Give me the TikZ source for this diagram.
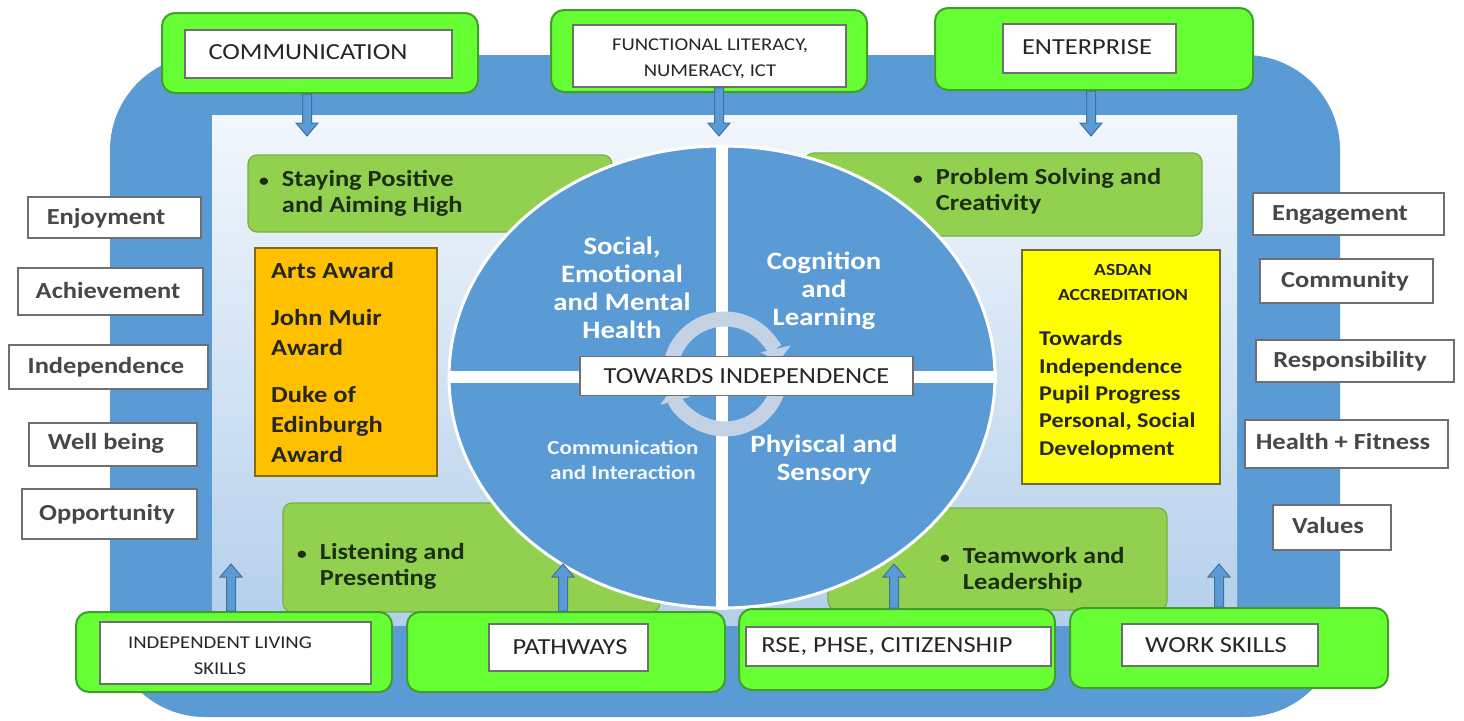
\documentclass[tikz,border=0pt]{standalone}
\usepackage{fontspec}
\setmainfont{Carlito}[FakeStretch=1.15]
\usetikzlibrary{arrows.meta,calc,shapes.geometric}
\definecolor{frameblue}{HTML}{5B9BD5}
\definecolor{arrowedge}{HTML}{41719C}
\definecolor{panelTop}{HTML}{F2F7FC}
\definecolor{panelBot}{HTML}{B4CFEB}
\definecolor{lgreen}{HTML}{92D050}
\definecolor{lgreenedge}{HTML}{77B043}
\definecolor{bgreen}{HTML}{66FF33}
\definecolor{bgreenedge}{HTML}{3F9F2A}
\definecolor{orangebox}{HTML}{FFC000}
\definecolor{orangeedge}{HTML}{8A6A10}
\definecolor{yellowbox}{HTML}{FFFF00}
\definecolor{yellowedge}{HTML}{6E6E30}
\definecolor{ringcol}{HTML}{C5D1E5}
\definecolor{txt}{HTML}{262626}
\definecolor{gtxt}{HTML}{1E2E12}
\definecolor{boxedge}{HTML}{6F6F6F}
\newcommand{\blkdown}[2]{\filldraw[barrow] let \p1=(#1), \p2=(#2) in (\x1-4.5pt,\y1) -- (\x1-4.5pt,\y2+13pt) -- (\x1-11pt,\y2+13pt) -- (\x1,\y2) -- (\x1+11pt,\y2+13pt) -- (\x1+4.5pt,\y2+13pt) -- (\x1+4.5pt,\y1) -- cycle;}
\newcommand{\blkup}[2]{\filldraw[barrow] let \p1=(#1), \p2=(#2) in (\x1-4.5pt,\y1) -- (\x1-4.5pt,\y2-13pt) -- (\x1-11pt,\y2-13pt) -- (\x1,\y2) -- (\x1+11pt,\y2-13pt) -- (\x1+4.5pt,\y2-13pt) -- (\x1+4.5pt,\y1) -- cycle;}
\newcommand{\bul}{{\fontsize{17}{17}\selectfont\textbullet}\hspace{13pt}}
\newcommand{\bulph}{\phantom{\bul}}
\tikzset{
  frame/.style={fill=frameblue, rounded corners=95pt, inner sep=0pt},
  gbox/.style={fill=lgreen, draw=lgreenedge, line width=1.2pt, rounded corners=9pt, inner sep=0pt},
  gtext/.style={anchor=west, align=left, text=gtxt, inner sep=0pt, font=\fontsize{23}{26}\selectfont\bfseries},
  bbox/.style={fill=bgreen, draw=bgreenedge, line width=2pt, rounded corners=13pt, inner sep=0pt},
  wbox/.style={fill=white, draw=boxedge, line width=1.6pt, inner sep=0pt},
  ltext/.style={text=txt, inner sep=0pt, align=center, font=\fontsize{23}{26}\selectfont},
  stext/.style={text=txt, inner sep=0pt, align=center, font=\fontsize{18}{26}\selectfont},
  sbox/.style={fill=white, draw=boxedge, line width=1.6pt, inner sep=0pt},
  sidetext/.style={text=txt!85!white, inner sep=0pt, font=\fontsize{23}{26}\selectfont\bfseries},
  qtext/.style={text=white, align=center, inner sep=0pt, font=\fontsize{25}{28}\selectfont\bfseries},
  barrow/.style={fill=frameblue, draw=arrowedge, line width=1pt},
  ring/.style={draw=ringcol, line width=15pt, -{Triangle[width=30pt,length=13pt]}}
}
\begin{document}
\begin{tikzpicture}[x=1pt,y=-1pt]
\useasboundingbox[fill=white] (0,0) rectangle (1464,720);
% frame and panel
\node[frame, minimum width=1230pt, minimum height=662pt] (frm) at (725,386) {};
\node[inner sep=0pt, top color=panelTop, bottom color=panelBot, minimum width=1025pt, minimum height=510pt] (panel) at (724.5,370) {};
% light green boxes
\node[gbox, minimum width=364pt, minimum height=77pt] (gStay) at (430,193.5) {};
\node[gbox, minimum width=397pt, minimum height=83pt] (gProb) at (1003.5,194.5) {};
\node[gbox, minimum width=377pt, minimum height=109pt] (gList) at (471.5,557.5) {};
\node[gbox, minimum width=339pt, minimum height=102pt] (gTeam) at (997.5,559) {};
\node[gtext] (tStay) at (259,193) {\bul Staying Positive\\\bulph and Aiming High};
\node[gtext] (tProb) at (913,191) {\bul Problem Solving and\\\bulph Creativity};
\node[gtext] (tList) at (297,566) {\bul Listening and\\\bulph Presenting};
\node[gtext] (tTeam) at (940,570) {\bul Teamwork and\\\bulph Leadership};
% orange and yellow boxes
\node[fill=orangebox, draw=orangeedge, line width=1.4pt, minimum width=182pt, minimum height=228pt, inner sep=0pt] (oBox) at (346,362) {};
\node[anchor=north west, align=left, inner sep=0pt, text=txt, font=\fontsize{23}{30}\selectfont\bfseries] (oText) at (271,262) {Arts Award\\[17pt]John Muir\\Award\\[17pt]Duke of\\Edinburgh\\Award};
\node[fill=yellowbox, draw=yellowedge, line width=1.4pt, minimum width=198pt, minimum height=234pt, inner sep=0pt] (yBox) at (1121,367) {};
\node[align=center, inner sep=0pt, text=txt, font=\fontsize{17}{25}\selectfont\bfseries] (yHead) at (1123,282) {ASDAN\\ACCREDITATION};
\node[anchor=north west, align=left, inner sep=0pt, text=txt, font=\fontsize{21}{27.3}\selectfont\bfseries] (yText) at (1039,331) {Towards\\Independence\\Pupil Progress\\Personal, Social\\Development};
% central ellipse
\node[ellipse, fill=frameblue, draw=white, line width=3pt, minimum width=546pt, minimum height=462pt, inner sep=0pt] (circ) at (722,377) {};
\draw[white, line width=12pt] (circ.north) -- (circ.south);
\draw[white, line width=12pt] (circ.west) -- (circ.east);
\coordinate (rc) at (725,374);
\draw[ring] ($(rc)+(-195:55)$) arc[start angle=-195, end angle=-13, radius=55];
\draw[ring] ($(rc)+(15:55)$) arc[start angle=15, end angle=165, radius=55];
\node[fill=white, draw=boxedge, line width=1.4pt, minimum width=333pt, minimum height=39pt, inner sep=0pt, text=txt, font=\fontsize{23}{26}\selectfont] (towards) at (746.5,376) {TOWARDS INDEPENDENCE};
\node[qtext] (qSEMH) at (622,288) {Social,\\Emotional\\and Mental\\Health};
\node[qtext] (qCL) at (824,291) {Cognition\\and\\Learning};
\node[qtext, text=white!92!frameblue, font=\fontsize{20}{25}\selectfont\bfseries] (qCI) at (623,460) {Communication\\and Interaction};
\node[qtext] (qPS) at (824,460) {Phyiscal and\\Sensory};
% side boxes left
\node[sbox, minimum width=173pt, minimum height=41pt] (sEnj) at (114.5,217.5) {};
\node[sidetext] (tEnj) at (106,218) {Enjoyment};
\node[sbox, minimum width=185pt, minimum height=47pt] (sAch) at (110.5,291.5) {};
\node[sidetext] (tAch) at (108,291) {Achievement};
\node[sbox, minimum width=199pt, minimum height=44pt] (sInd) at (108.5,367) {};
\node[sidetext] (tInd) at (106,367) {Independence};
\node[sbox, minimum width=168pt, minimum height=43pt] (sWell) at (113,444.5) {};
\node[sidetext] (tWell) at (106,443) {Well being};
\node[sbox, minimum width=175pt, minimum height=50pt] (sOpp) at (109.5,514) {};
\node[sidetext] (tOpp) at (107,514) {Opportunity};
% side boxes right
\node[sbox, minimum width=191pt, minimum height=42pt] (sEng) at (1348.5,214) {};
\node[sidetext] (tEng) at (1340,215) {Engagement};
\node[sbox, minimum width=173pt, minimum height=44pt] (sCom) at (1346.5,281) {};
\node[sidetext] (tCom) at (1345,281) {Community};
\node[sbox, minimum width=198pt, minimum height=42pt] (sRes) at (1355,361) {};
\node[sidetext] (tRes) at (1350,361) {Responsibility};
\node[sbox, minimum width=203pt, minimum height=48pt] (sHea) at (1346.5,444) {};
\node[sidetext] (tHea) at (1343,442) {Health + Fitness};
\node[sbox, minimum width=118pt, minimum height=45pt] (sVal) at (1332,527.5) {};
\node[sidetext] (tVal) at (1328,526) {Values};
% top boxes
\node[bbox, minimum width=316pt, minimum height=80pt] (bComm) at (320,53) {};
\node[wbox, minimum width=267pt, minimum height=48pt] (wComm) at (318.5,54) {};
\node[ltext] (tComm) at (308,52) {COMMUNICATION};
\node[bbox, minimum width=316pt, minimum height=82pt] (bFunc) at (709,51) {};
\node[wbox, minimum width=273pt, minimum height=62pt] (wFunc) at (709.5,56) {};
\node[stext] (tFunc) at (710,59) {FUNCTIONAL LITERACY,\\NUMERACY, ICT};
\node[bbox, minimum width=318pt, minimum height=82pt] (bEnt) at (1094,49) {};
\node[wbox, minimum width=173pt, minimum height=49pt] (wEnt) at (1089.5,48.5) {};
\node[ltext] (tEnt) at (1087,47) {ENTERPRISE};
% bottom boxes
\node[bbox, minimum width=316pt, minimum height=80pt] (bILS) at (234,652) {};
\node[wbox, minimum width=271pt, minimum height=62pt] (wILS) at (235.5,653) {};
\node[stext] (tILS) at (220,656) {INDEPENDENT LIVING\\SKILLS};
\node[bbox, minimum width=318pt, minimum height=80pt] (bPath) at (566,652) {};
\node[wbox, minimum width=159pt, minimum height=47pt] (wPath) at (568.5,647.5) {};
\node[ltext] (tPath) at (570,647) {PATHWAYS};
\node[bbox, minimum width=316pt, minimum height=81pt] (bRSE) at (897,649.5) {};
\node[wbox, minimum width=305pt, minimum height=39pt] (wRSE) at (898.5,646.5) {};
\node[ltext] (tRSE) at (887,647) {RSE, PHSE, CITIZENSHIP};
\node[bbox, minimum width=318pt, minimum height=80pt] (bWork) at (1229,648) {};
\node[wbox, minimum width=196pt, minimum height=42pt] (wWork) at (1220,645) {};
\node[ltext] (tWork) at (1216,645) {WORK SKILLS};
% arrows
\coordinate (aComm) at (307,136);
\coordinate (aFunc) at (719,136);
\coordinate (aEnt) at (1091,136);
\coordinate (aILS) at (231,564);
\coordinate (aPath) at (563,564);
\coordinate (aRSE) at (894,564);
\coordinate (aWork) at (1219,564);
\blkdown{bComm.south -| aComm}{aComm}
\blkdown{wFunc.south -| aFunc}{aFunc}
\blkdown{bEnt.south -| aEnt}{aEnt}
\blkup{bILS.north -| aILS}{aILS}
\blkup{bPath.north -| aPath}{aPath}
\blkup{bRSE.north -| aRSE}{aRSE}
\blkup{bWork.north -| aWork}{aWork}
\end{tikzpicture}
\end{document}
